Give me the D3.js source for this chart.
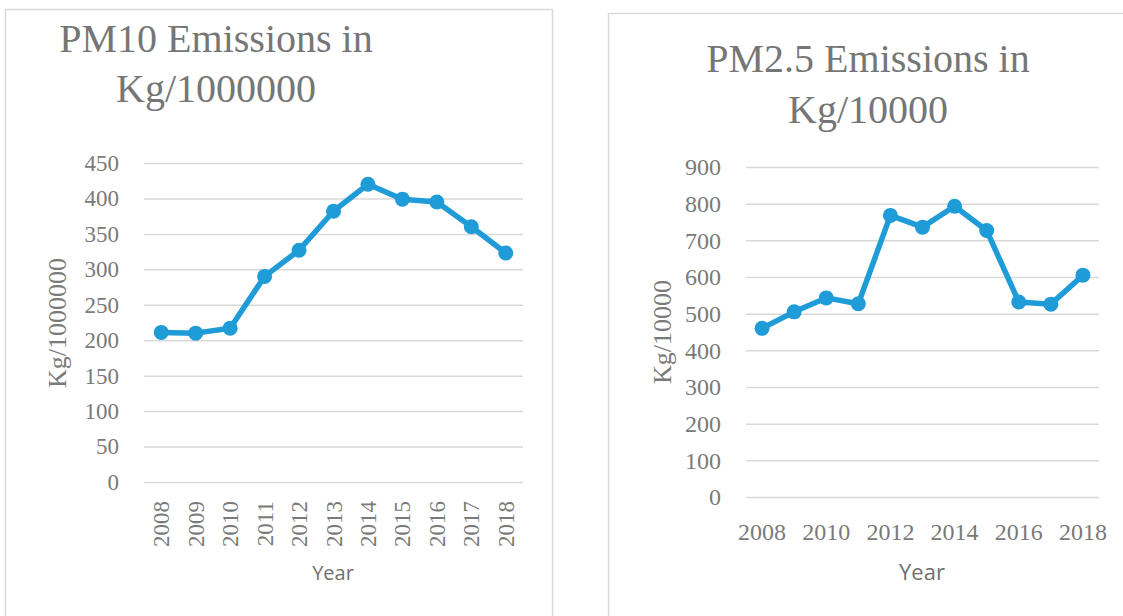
<!DOCTYPE html>
<html>
<head>
<meta charset="utf-8">
<script src="https://cdn.jsdelivr.net/npm/d3@7"></script>
<style>
	body { margin: 0; background: #fff; }
	svg { display: block; }
	.grid line { stroke: #d9d9d9; stroke-width: 1.5; }
	.grid .domain { display: none; }
	.ticks text { fill: #7a7a7a; font-family: "Liberation Serif", serif; }
	.title { fill: #767676; font-family: "Liberation Serif", serif; font-size: 40px; }
	.ytitle { fill: #7a7a7a; font-family: "Liberation Serif", serif; font-size: 26px; }
	.xtitle { fill: #6f6f6f; font-family: "Open Sans", sans-serif; }
	.frame { fill: none; stroke: #d9d9d9; stroke-width: 1.5; }
</style>
</head>
<body>
<script>
var years = ["2008", "2009", "2010", "2011", "2012", "2013", "2014", "2015", "2016", "2017", "2018"];
var pm10 = [211, 210, 217, 290, 327, 382, 420, 399, 395, 360, 323];
var pm25 = [460, 505, 543, 527, 768, 736, 793, 727, 532, 526, 605];
var pm10Ticks = [0, 50, 100, 150, 200, 250, 300, 350, 400, 450];
var pm25Ticks = [0, 100, 200, 300, 400, 500, 600, 700, 800, 900];
var pm25YearLabels = ["2008", "2010", "2012", "2014", "2016", "2018"];

var lineColor = "#1f9bd7";

var svg = d3.select("body")
	.append("svg")
	.attr("width", 1123)
	.attr("height", 616);

function drawPanel(p) {
	var g = svg.append("g");

	g.append("rect")
	.attr("class", "frame")
	.attr("x", p.frame[0])
	.attr("y", p.frame[1])
	.attr("width", p.frame[2])
	.attr("height", p.frame[3]);

	var x = d3.scalePoint()
	.domain(years)
	.range([p.left, p.right])
	.padding(0.5);

	var y = d3.scaleLinear()
	.domain([0, d3.max(p.ticks)])
	.range([p.bottom, p.top]);

	// gridlines + value labels
	var yAxis = g.append("g")
	.attr("class", "grid ticks")
	.attr("transform", "translate(" + p.left + ",0)")
	.call(d3.axisLeft(y)
		.tickValues(p.ticks)
		.tickSize(-(p.right - p.left))
		.tickPadding(25)
		.tickFormat(d3.format("d")));
	yAxis.selectAll("text")
	.style("font-size", p.tickFont + "px");

	// year labels
	var xG = g.append("g").attr("class", "ticks");
	if (p.rotated) {
		xG.selectAll("text")
		.data(p.xLabels)
		.enter()
		.append("text")
		.text(function (d) { return d; })
		.attr("text-anchor", "end")
		.attr("dy", "0.35em")
		.style("font-size", p.tickFont + "px")
		.attr("transform", function (d) {
			return "translate(" + x(d) + "," + (p.bottom + 19) + ") rotate(-90)";
		});
	}
	else {
		xG.selectAll("text")
		.data(p.xLabels)
		.enter()
		.append("text")
		.text(function (d) { return d; })
		.attr("text-anchor", "middle")
		.attr("x", function (d) { return x(d); })
		.attr("y", p.bottom + 43)
		.style("font-size", p.tickFont + "px");
	}

	var line = d3.line()
	.x(function (d, i) { return x(years[i]); })
	.y(function (d) { return y(d); });

	g.append("path")
	.datum(p.values)
	.attr("d", line)
	.attr("fill", "none")
	.attr("stroke", lineColor)
	.attr("stroke-width", 5.5)
	.attr("stroke-linejoin", "round");

	g.selectAll("circle.pt")
	.data(p.values)
	.enter()
	.append("circle")
	.attr("class", "pt")
	.attr("cx", function (d, i) { return x(years[i]); })
	.attr("cy", function (d) { return y(d); })
	.attr("r", 7.5)
	.attr("fill", lineColor);

	g.selectAll("text.title")
	.data(p.title)
	.enter()
	.append("text")
	.attr("class", "title")
	.attr("text-anchor", "middle")
	.attr("x", p.titleX)
	.attr("y", function (d, i) { return p.titleY + i * p.titleGap; })
	.text(function (d) { return d; });

	g.append("text")
	.attr("class", "ytitle")
	.attr("text-anchor", "middle")
	.attr("dy", "0.35em")
	.attr("transform", "translate(" + p.yTitle[0] + "," + p.yTitle[1] + ") rotate(-90)")
	.text(p.yLabel);

	g.append("text")
	.attr("class", "xtitle")
	.attr("text-anchor", "middle")
	.attr("x", p.xTitle[0])
	.attr("y", p.xTitle[1])
	.style("font-size", p.xTitleFont + "px")
	.text("Year");
}

drawPanel({
	frame: [5.5, 9.5, 547, 640],
	left: 144, right: 523, top: 163, bottom: 482,
	values: pm10, ticks: pm10Ticks, xLabels: years, rotated: true,
	tickFont: 23,
	title: ["PM10 Emissions in", "Kg/1000000"], titleX: 216, titleY: 52, titleGap: 50,
	yLabel: "Kg/1000000", yTitle: [57, 323],
	xTitle: [333, 580], xTitleFont: 20
});

drawPanel({
	frame: [608.5, 13.5, 560, 640],
	left: 746, right: 1099, top: 167, bottom: 497,
	values: pm25, ticks: pm25Ticks, xLabels: pm25YearLabels, rotated: false,
	tickFont: 24,
	title: ["PM2.5 Emissions in", "Kg/10000"], titleX: 868, titleY: 72, titleGap: 51,
	yLabel: "Kg/10000", yTitle: [662, 332],
	xTitle: [922, 580], xTitleFont: 22
});
</script>
</body>
</html>
